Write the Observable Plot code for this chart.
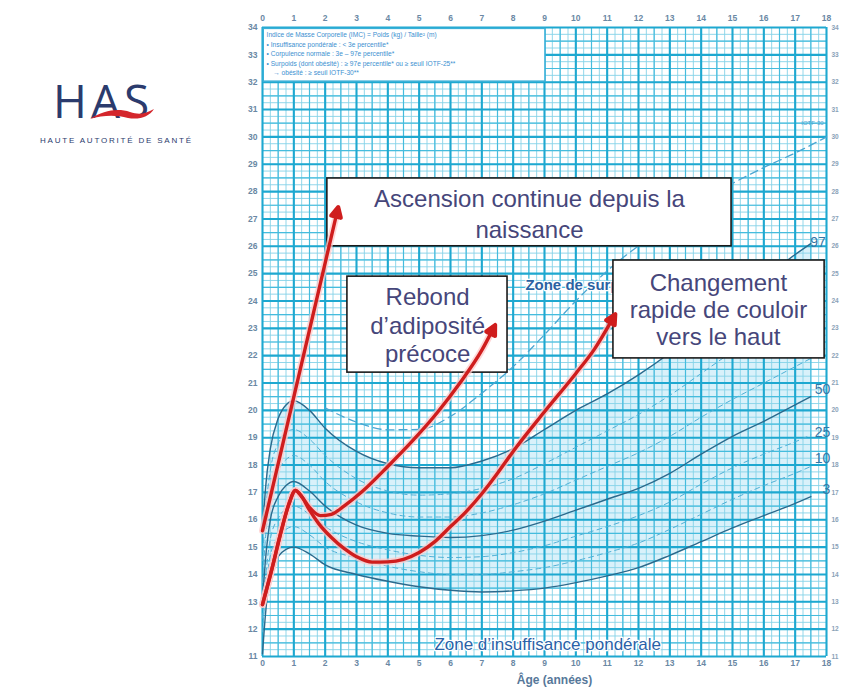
<!DOCTYPE html>
<html><head><meta charset="utf-8">
<script src="https://cdn.jsdelivr.net/npm/d3@7"></script>
<script src="https://cdn.jsdelivr.net/npm/@observablehq/plot@0.6"></script>
<style>
html,body{margin:0;padding:0;background:#fff;}
#wrap{position:relative;width:842px;height:693px;overflow:hidden;}
#chart svg{display:block;}
#logo{position:absolute;left:0;top:0;}
</style></head><body>
<div id="wrap"><div id="chart"></div>
<svg id="logo" width="230" height="170" viewBox="0 0 230 170">
  <text x="53" y="118" font-family="'Open Sans','Liberation Sans',sans-serif" font-size="46" letter-spacing="4" fill="#2b3b6d">HAS</text>
  <path d="M90,119 C104,110 118,108 130,112 C139,115 145,114 154,109 C149,117 139,120 128,118 C116,115 104,115 90,119 Z" fill="#d4262c"/>
  <text x="40" y="143" font-family="'Liberation Sans',sans-serif" font-size="8" letter-spacing="1.8" fill="#2b3b6d">HAUTE AUTORITÉ DE SANTÉ</text>
</svg>
</div>
<script>
// ---- data: BMI reference percentiles (boys) ----
const ages = [0,0.1,0.25,0.5,0.75,1,1.5,2,3,4,5,6,7,8,9,10,11,12,13,14,15,16,17,17.5];
const p3  = [11.1,12.6,14.0,14.65,14.92,15.0,14.75,14.35,14.0,13.75,13.55,13.42,13.36,13.4,13.5,13.7,13.95,14.25,14.7,15.2,15.7,16.15,16.6,16.85];
const p10 = [11.9,13.3,14.7,15.35,15.65,15.75,15.45,15.0,14.6,14.3,14.1,14.0,14.0,14.1,14.25,14.5,14.8,15.15,15.65,16.2,16.75,17.25,17.7,17.95];
const p25 = [12.4,13.9,15.3,16.05,16.4,16.5,16.2,15.75,15.2,14.9,14.7,14.62,14.65,14.8,15.05,15.4,15.75,16.15,16.65,17.3,17.9,18.4,18.85,19.1];
const p50 = [13.0,14.6,16.0,16.85,17.25,17.4,17.05,16.5,15.8,15.5,15.4,15.35,15.42,15.62,15.95,16.35,16.75,17.15,17.7,18.4,19.05,19.6,20.2,20.5];
const p75 = [13.7,15.4,16.9,17.8,18.2,18.35,18.0,17.4,16.65,16.25,16.1,16.1,16.25,16.55,16.95,17.45,17.95,18.45,19.05,19.75,20.4,21.0,21.6,21.9];
const p90 = [14.5,16.3,17.8,18.8,19.2,19.3,18.95,18.35,17.5,17.05,16.9,16.95,17.15,17.5,18.05,18.65,19.25,19.85,20.55,21.35,22.15,22.9,23.55,23.9];
const p97 = [15.5,17.2,18.6,19.7,20.2,20.35,20.0,19.35,18.5,18.05,17.9,17.9,18.15,18.6,19.3,20.0,20.6,21.3,22.1,23.0,23.9,24.8,25.7,26.1];
const iotfAges = [2,3,4,5,6,7,8,9,10,11,12,13,14,15,16,17,18];
const iotf30   = [20.09,19.57,19.29,19.30,19.78,20.63,21.60,22.77,24.00,25.10,26.02,26.84,27.63,28.30,28.88,29.41,30.00];

// red annotation trajectories
const ascAges = [0, 2.39];
const ascBmi  = [15.6, 27.3];
const rebAges = [0,0.3,0.6,0.85,1.05,1.25,1.5,1.85,2.2,2.6,3.2,4.0,4.8,5.6,6.3,7.0,7.37];
const rebBmi  = [12.9,14.2,15.6,16.6,17.07,16.85,16.45,16.15,16.2,16.5,17.05,17.95,18.9,19.95,21.0,22.2,23.0];
const chgAges = [0,0.3,0.6,0.85,1.05,1.25,1.5,1.8,2.2,2.6,3.0,3.5,4.0,4.5,5.0,5.5,6.0,6.5,7.0,7.5,8.0,9.0,10.0,10.6,11.2];
const chgBmi  = [12.9,14.2,15.6,16.6,17.07,16.85,16.35,15.85,15.35,14.95,14.65,14.45,14.46,14.55,14.8,15.2,15.75,16.3,16.95,17.7,18.5,19.95,21.35,22.25,23.4];

// tick labels / texts
const xTicks = d3.range(0, 19, 1);
const yTicks = d3.range(11, 35, 1);
const pctLabels = ["97","50","25","10","3"];
const headerLines = [
  "Indice de Masse Corporelle (IMC) = Poids (kg) / Taille² (m)",
  "• Insuffisance pondérale : < 3e percentile*",
  "• Corpulence normale : 3e – 97e percentile*",
  "• Surpoids (dont obésité) : ≥ 97e percentile* ou ≥ seuil IOTF-25**",
  "\u2003→ obésité : ≥ seuil IOTF-30**"
];
const noteTexts = [
  "Ascension continue depuis la\nnaissance",
  "Rebond\nd’adiposité\nprécoce",
  "Changement\nrapide de couloir\nvers le haut"
];

// ---- build tables ----
const rows = (xs, ys, key) => xs.map((a, i) => ({age: a, bmi: ys[i], key}));
const solid  = [...rows(ages,p3,"3"), ...rows(ages,p50,"50"), ...rows(ages,p97,"97")];
const dashed = [...rows(ages,p10,"10"), ...rows(ages,p25,"25"), ...rows(ages,p75,"75"), ...rows(ages,p90,"90")];
const band   = ages.map((a, i) => ({age: a, lo: p3[i], hi: p97[i]}));
const iotf   = rows(iotfAges, iotf30, "IOTF-30");
const red    = [...rows(ascAges,ascBmi,"A"), ...rows(rebAges,rebBmi,"B"), ...rows(chgAges,chgBmi,"C")];

// annotation placement (data units)
const boxes = [
  {x1: 2.07, x2: 14.97, y1: 26.0, y2: 28.48, cx: 8.52, cy: 27.22, lh: 1.29},
  {x1: 2.71, x2: 7.82,  y1: 21.38, y2: 24.89, cx: 5.27, cy: 23.14, lh: 1.19},
  {x1: 11.2, x2: 17.94, y1: 21.9, y2: 25.48, cx: 14.55, cy: 23.69, lh: 1.125}
].map((b, i) => ({...b, text: noteTexts[i]}));
const labelSpots = [[17.98,26.15],[18.12,20.75],[18.12,19.2],[18.12,18.25],[18.12,17.1]]
  .map(([x, y], i) => ({x, y, text: pctLabels[i]}));

const xMinor = d3.range(0, 18.001, 0.25), xHalf = d3.range(0.5, 18, 1);
const yMinor = d3.range(11, 34.001, 0.25), yHalf = d3.range(11.5, 34, 1);

function tri(color) {
  const ns = "http://www.w3.org/2000/svg";
  const m = document.createElementNS(ns, "marker");
  m.setAttribute("viewBox", "-6 -5 10 10");
  m.setAttribute("markerWidth", "3.6");
  m.setAttribute("markerHeight", "3.6");
  m.setAttribute("orient", "auto");
  m.setAttribute("overflow", "visible");
  const p = document.createElementNS(ns, "path");
  p.setAttribute("d", "M-5,-4L3,0L-5,4Z");
  p.setAttribute("fill", color);
  m.appendChild(p);
  return m;
}

const curve = "monotone-x";
function build(marker) {
  return Plot.plot({
    width: 842, height: 693,
    marginLeft: 262, marginRight: 16, marginTop: 27, marginBottom: 37,
    x: {domain: [0, 18], label: null},
    y: {domain: [11, 34], label: null},
    style: {fontFamily: "'Liberation Sans', Arial, sans-serif", background: "transparent", overflow: "visible"},
    marks: [
      Plot.areaY(band, {x: "age", y1: "lo", y2: "hi", curve, fill: "#d9f1fa"}),
      Plot.ruleX(xMinor, {stroke: "#86d2e8", strokeWidth: 0.9}),
      Plot.ruleY(yMinor, {stroke: "#86d2e8", strokeWidth: 0.9}),
      Plot.ruleX(xHalf, {stroke: "#45bcdd", strokeWidth: 1.2}),
      Plot.ruleY(yHalf, {stroke: "#45bcdd", strokeWidth: 1.2}),
      Plot.ruleX(xTicks, {stroke: "#1ea8d0", strokeWidth: 2.1}),
      Plot.ruleY(yTicks, {stroke: "#1ea8d0", strokeWidth: 2.1}),
      // header legend box
      Plot.rect([0], {x1: 0.04, x2: 9.03, y1: 32.02, y2: 33.95, fill: "white", stroke: "#39b0d8", strokeWidth: 1.5}),
      Plot.text([headerLines.join("\n")], {x: 0.13, y: 33.88, text: d => d, textAnchor: "start", lineAnchor: "top",
        lineHeight: 1.42, fontSize: 6.6, fill: "#3b8fd0"}),
      // reference curves
      Plot.line(dashed, {x: "age", y: "bmi", z: "key", curve, stroke: "#4fb0d6", strokeWidth: 1, strokeDasharray: "5,4"}),
      Plot.line(iotf, {x: "age", y: "bmi", curve, stroke: "#4aa6d2", strokeWidth: 1.3, strokeDasharray: "8,5"}),
      Plot.line(solid, {x: "age", y: "bmi", z: "key", curve, stroke: "#2b6a8d", strokeWidth: 1.4}),
      Plot.text(["IOTF-30"], {x: 17.55, y: 30.5, text: d => d, fontSize: 6, fill: "#4a9fd0"}),
      Plot.text(labelSpots, {x: "x", y: "y", text: "text", textAnchor: "end", fontSize: 14, fill: "#3577a6",
        fontFamily: "'Liberation Sans Narrow','Liberation Sans',sans-serif"}),
      // zone labels
      Plot.text(["Zone de surpoids"], {x: 8.39, y: 24.56, text: d => d, textAnchor: "start", fontSize: 15, fontWeight: "bold",
        fill: "#2a62a2", stroke: "white", strokeWidth: 2.5, paintOrder: "stroke"}),
      Plot.text(["Zone d’insuffisance pondérale"], {x: 9.1, y: 11.42, text: d => d, fontSize: 17, fill: "#2a62a8",
        stroke: "white", strokeWidth: 2.5, paintOrder: "stroke"}),
      // annotation boxes
      Plot.rect(boxes, {x1: "x1", x2: "x2", y1: "y1", y2: "y2", fill: "white", stroke: "#1a1a1a", strokeWidth: 1.6}),
      ...boxes.map(b => Plot.text([b], {x: "cx", y: "cy", text: "text", fontSize: 24, lineHeight: b.lh, fill: "#46467a"})),
      // red trajectories
      Plot.line(red, {x: "age", y: "bmi", z: "key", curve, stroke: "#ffc9c9", strokeWidth: 7, strokeOpacity: 0.75}),
      Plot.line(red, {x: "age", y: "bmi", z: "key", curve, stroke: "#cf1d1d", strokeWidth: 3.4, markerEnd: marker}),
      // axes
      Plot.axisX(xTicks, {anchor: "top", tickSize: 0, tickPadding: 7, fontSize: 8.5, fontWeight: "bold", fill: "#6a88a4", label: null}),
      Plot.axisX(xTicks, {anchor: "bottom", tickSize: 0, tickPadding: 3, fontSize: 8.5, fontWeight: "bold", fill: "#6a88a4", label: null}),
      Plot.axisY(yTicks, {anchor: "left", tickSize: 0, tickPadding: 5, fontSize: 8.5, fontWeight: "bold", fill: "#6a88a4", label: null}),
      Plot.axisY(yTicks, {anchor: "right", tickSize: 0, tickPadding: 5, fontSize: 6.5, fontWeight: "bold", fill: "#8aa2b8", label: null}),
      Plot.text(["Âge (années)"], {frameAnchor: "bottom", text: d => d, dx: 10, dy: 27, fontSize: 12, fontWeight: "bold", fill: "#56789a"})
    ]
  });
}
let chart;
try { chart = build(tri); } catch (e) { chart = build("arrow"); }
document.getElementById("chart").append(chart);
</script>
</body></html>
